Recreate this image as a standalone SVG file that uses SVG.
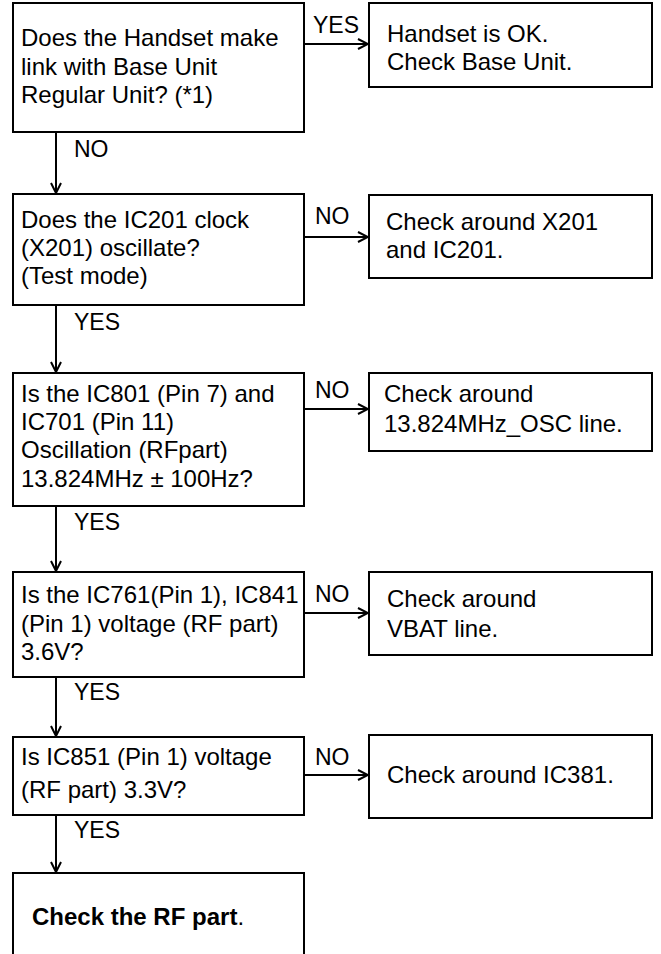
<svg xmlns="http://www.w3.org/2000/svg" width="661" height="954" viewBox="0 0 661 954">
<defs>
<style>
.box{fill:#fff;stroke:#000;stroke-width:2}
.t{font-family:"Liberation Sans",Arial,sans-serif;font-size:24px;fill:#000}
.lbl{font-family:"Liberation Sans",Arial,sans-serif;font-size:23px;fill:#000}
.b{font-weight:bold}
.c{fill:none;stroke:#000;stroke-width:2}
</style>
<marker id="ah" viewBox="0 0 12 12" refX="11" refY="6" markerWidth="12" markerHeight="12" markerUnits="userSpaceOnUse" orient="auto">
<path d="M1,1 L11,6 L1,11" fill="none" stroke="#000" stroke-width="2"/>
</marker>
</defs>
<rect width="661" height="954" fill="#fff"/>
<g id="connectors">
<path class="c" d="M304,44 H368" marker-end="url(#ah)"/>
<path class="c" d="M304,237 H368" marker-end="url(#ah)"/>
<path class="c" d="M304,409 H368" marker-end="url(#ah)"/>
<path class="c" d="M304,613 H368" marker-end="url(#ah)"/>
<path class="c" d="M304,775 H368" marker-end="url(#ah)"/>
<path class="c" d="M56,132 V193" marker-end="url(#ah)"/>
<path class="c" d="M56,305 V372" marker-end="url(#ah)"/>
<path class="c" d="M56,506 V571" marker-end="url(#ah)"/>
<path class="c" d="M56,677 V736" marker-end="url(#ah)"/>
<path class="c" d="M56,815 V872" marker-end="url(#ah)"/>
<text class="lbl" x="313" y="33">YES</text>
<text class="lbl" x="315" y="224">NO</text>
<text class="lbl" x="315" y="398">NO</text>
<text class="lbl" x="315" y="602">NO</text>
<text class="lbl" x="315" y="765">NO</text>
<text class="lbl" x="74" y="157">NO</text>
<text class="lbl" x="74" y="330">YES</text>
<text class="lbl" x="74" y="530">YES</text>
<text class="lbl" x="74" y="700">YES</text>
<text class="lbl" x="74" y="838">YES</text>
</g>
<g id="q1">
<rect class="box" x="13" y="3" width="291" height="129"/>
<text class="t" x="21" y="46">Does the Handset make</text>
<text class="t" x="21" y="75">link with Base Unit</text>
<text class="t" x="21" y="103">Regular Unit? (*1)</text>
</g>
<g id="r1">
<rect class="box" x="369" y="3" width="283" height="84"/>
<text class="t" x="387" y="42">Handset is OK.</text>
<text class="t" x="387" y="70">Check Base Unit.</text>
</g>
<g id="q2">
<rect class="box" x="13" y="194" width="291" height="111"/>
<text class="t" x="21" y="228">Does the IC201 clock</text>
<text class="t" x="21" y="256">(X201) oscillate?</text>
<text class="t" x="21" y="284">(Test mode)</text>
</g>
<g id="r2">
<rect class="box" x="369" y="195" width="283" height="83"/>
<text class="t" x="386" y="230">Check around X201</text>
<text class="t" x="386" y="258">and IC201.</text>
</g>
<g id="q3">
<rect class="box" x="13" y="373" width="291" height="133"/>
<text class="t" x="21" y="402">Is the IC801 (Pin 7) and</text>
<text class="t" x="21" y="430">IC701 (Pin 11)</text>
<text class="t" x="21" y="458">Oscillation (RFpart)</text>
<text class="t" x="21" y="487">13.824MHz ± 100Hz?</text>
</g>
<g id="r3">
<rect class="box" x="369" y="373" width="283" height="78"/>
<text class="t" x="384" y="402">Check around</text>
<text class="t" x="384" y="432">13.824MHz_OSC line.</text>
</g>
<g id="q4">
<rect class="box" x="13" y="572" width="291" height="105"/>
<text class="t" x="21" y="603">Is the IC761(Pin 1), IC841</text>
<text class="t" x="21" y="632">(Pin 1) voltage (RF part)</text>
<text class="t" x="21" y="660">3.6V?</text>
</g>
<g id="r4">
<rect class="box" x="369" y="572" width="283" height="83"/>
<text class="t" x="387" y="607">Check around</text>
<text class="t" x="387" y="637">VBAT line.</text>
</g>
<g id="q5">
<rect class="box" x="13" y="737" width="291" height="78"/>
<text class="t" x="21" y="765">Is IC851 (Pin 1) voltage</text>
<text class="t" x="21" y="798">(RF part) 3.3V?</text>
</g>
<g id="r5">
<rect class="box" x="369" y="735" width="283" height="83"/>
<text class="t" x="387" y="783">Check around IC381.</text>
</g>
<g id="end">
<rect class="box" x="13" y="873" width="291" height="100"/>
<text class="t" x="32" y="925"><tspan class="b">Check the RF part</tspan>.</text>
</g>
</svg>
